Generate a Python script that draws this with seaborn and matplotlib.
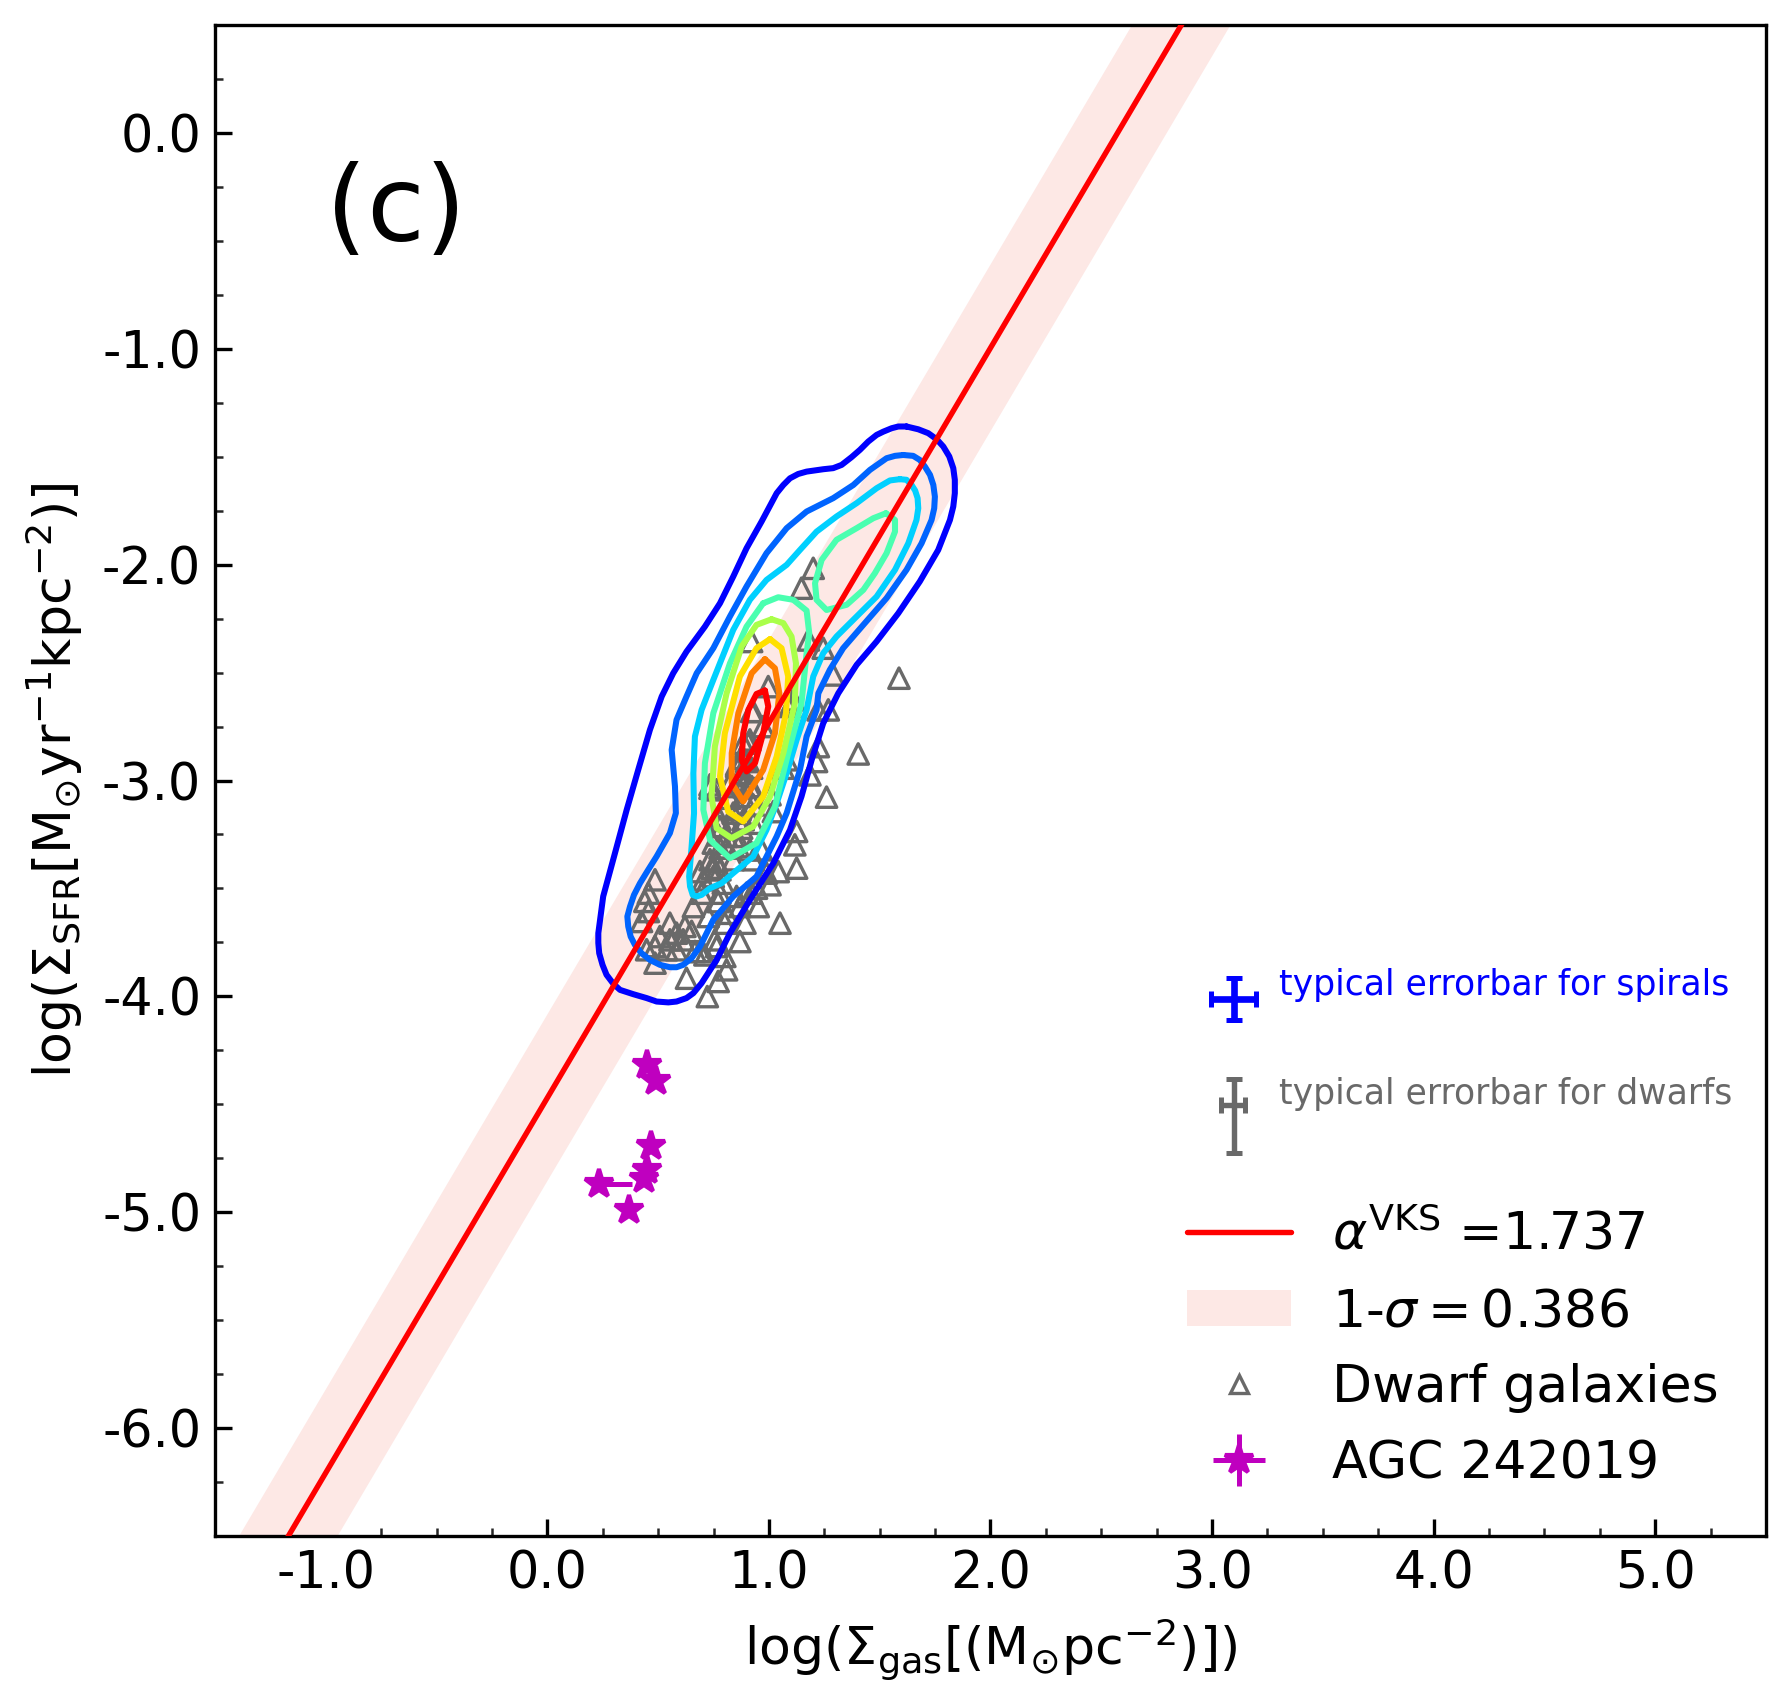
import matplotlib
matplotlib.use("Agg")
import matplotlib.pyplot as plt
from matplotlib.lines import Line2D
from matplotlib.patches import Patch
from matplotlib.ticker import MultipleLocator, FormatStrFormatter
import numpy as np
import seaborn as sns

slope = 1.737
intercept = -4.47
sigma = 0.386
line_x = [-2.0, 3.5]

contour_1 = [(1.621,-1.360),(1.674,-1.373),(1.719,-1.391),(1.757,-1.419),(1.787,-1.453),(1.814,-1.499),(1.832,-1.553),(1.839,-1.607),(1.839,-1.669),(1.832,-1.731),(1.817,-1.793),(1.764,-1.932),(1.681,-2.078),(1.584,-2.225),(1.486,-2.356),(1.396,-2.464),(1.313,-2.596),(1.245,-2.735),(1.193,-2.904),(1.147,-3.074),(1.095,-3.229),(1.020,-3.383),(0.914,-3.553),(0.824,-3.707),(0.764,-3.831),(0.696,-3.939),(0.659,-3.985),(0.628,-4.008),(0.583,-4.024),(0.546,-4.028),(0.493,-4.024),(0.448,-4.008),(0.388,-3.990),(0.328,-3.970),(0.298,-3.942),(0.267,-3.900),(0.249,-3.854),(0.234,-3.800),(0.230,-3.753),(0.230,-3.707),(0.252,-3.537),(0.305,-3.337),(0.358,-3.136),(0.410,-2.951),(0.463,-2.765),(0.516,-2.611),(0.568,-2.503),(0.628,-2.403),(0.711,-2.287),(0.779,-2.179),(0.839,-2.055),(0.899,-1.924),(0.967,-1.800),(1.035,-1.669),(1.065,-1.631),(1.095,-1.600),(1.132,-1.580),(1.170,-1.569),(1.245,-1.558),(1.290,-1.553),(1.328,-1.538),(1.373,-1.502),(1.411,-1.468),(1.448,-1.430),(1.486,-1.399),(1.516,-1.384),(1.554,-1.368),(1.584,-1.360)]
contour_2 = [(1.606,-1.492),(1.651,-1.496),(1.681,-1.515),(1.704,-1.546),(1.727,-1.584),(1.742,-1.631),(1.749,-1.685),(1.746,-1.739),(1.734,-1.793),(1.689,-1.901),(1.621,-2.024),(1.531,-2.155),(1.426,-2.279),(1.335,-2.387),(1.275,-2.487),(1.223,-2.596),(1.215,-2.673),(1.170,-2.796),(1.140,-2.951),(1.080,-3.151),(1.035,-3.259),(0.944,-3.445),(0.839,-3.537),(0.749,-3.645),(0.689,-3.769),(0.651,-3.823),(0.613,-3.854),(0.583,-3.865),(0.553,-3.865),(0.508,-3.854),(0.463,-3.831),(0.425,-3.800),(0.395,-3.761),(0.376,-3.723),(0.365,-3.676),(0.361,-3.630),(0.373,-3.584),(0.391,-3.530),(0.418,-3.476),(0.455,-3.414),(0.493,-3.352),(0.553,-3.244),(0.580,-3.151),(0.576,-3.028),(0.561,-2.858),(0.583,-2.719),(0.628,-2.611),(0.674,-2.503),(0.749,-2.387),(0.824,-2.240),(0.899,-2.101),(0.989,-1.947),(1.080,-1.831),(1.170,-1.754),(1.290,-1.692),(1.381,-1.631),(1.456,-1.561),(1.531,-1.507),(1.569,-1.496)]
contour_3 = [(1.591,-1.604),(1.621,-1.607),(1.644,-1.631),(1.660,-1.657),(1.671,-1.692),(1.674,-1.739),(1.666,-1.793),(1.629,-1.901),(1.569,-2.024),(1.486,-2.148),(1.396,-2.240),(1.305,-2.333),(1.245,-2.410),(1.200,-2.518),(1.170,-2.673),(1.125,-2.812),(1.080,-2.966),(1.035,-3.105),(0.989,-3.229),(0.929,-3.352),(0.839,-3.429),(0.786,-3.476),(0.734,-3.499),(0.696,-3.530),(0.674,-3.537),(0.656,-3.530),(0.644,-3.491),(0.640,-3.445),(0.651,-3.306),(0.662,-3.151),(0.659,-2.966),(0.666,-2.796),(0.696,-2.673),(0.749,-2.534),(0.839,-2.302),(0.914,-2.163),(0.989,-2.071),(1.080,-2.001),(1.140,-1.932),(1.215,-1.847),(1.305,-1.777),(1.396,-1.715),(1.486,-1.646),(1.546,-1.610)]
contour_4a = [(1.528,-1.762),(1.569,-1.793),(1.569,-1.847),(1.531,-1.947),(1.478,-2.040),(1.426,-2.117),(1.351,-2.186),(1.260,-2.210),(1.215,-2.163),(1.208,-2.086),(1.238,-1.978),(1.305,-1.885),(1.396,-1.831),(1.471,-1.785)]
contour_4b = [(0.974,-2.179),(1.042,-2.151),(1.110,-2.163),(1.170,-2.213),(1.182,-2.318),(1.170,-2.410),(1.147,-2.642),(1.087,-2.873),(1.027,-3.120),(0.944,-3.290),(0.824,-3.360),(0.734,-3.275),(0.704,-3.136),(0.711,-2.920),(0.749,-2.688),(0.824,-2.457),(0.899,-2.287)]
contour_5 = [(1.012,-2.253),(1.065,-2.271),(1.102,-2.333),(1.122,-2.457),(1.117,-2.642),(1.065,-2.873),(1.005,-3.074),(0.929,-3.213),(0.831,-3.267),(0.764,-3.221),(0.741,-3.074),(0.756,-2.842),(0.809,-2.596),(0.877,-2.379),(0.944,-2.279)]
contour_6 = [(1.005,-2.345),(1.057,-2.387),(1.087,-2.518),(1.077,-2.688),(1.035,-2.889),(0.974,-3.074),(0.884,-3.190),(0.816,-3.144),(0.779,-2.982),(0.801,-2.781),(0.869,-2.518),(0.944,-2.387)]
contour_7 = [(0.982,-2.438),(1.027,-2.480),(1.047,-2.596),(1.027,-2.781),(0.974,-2.951),(0.884,-3.097),(0.832,-3.012),(0.832,-2.873),(0.862,-2.688),(0.922,-2.503)]
contour_8 = [(0.982,-2.583),(0.997,-2.657),(0.974,-2.781),(0.937,-2.920),(0.899,-2.958),(0.877,-2.904),(0.884,-2.781),(0.907,-2.673),(0.944,-2.599)]
contours = [contour_1, contour_2, contour_3, contour_4a, contour_4b, contour_5, contour_6, contour_7, contour_8]
contour_colors = ["#0000ff", "#0064ff", "#00d0ff", "#4affb0", "#4affb0", "#aaff4a", "#ffe000", "#ff7f00", "#ff0000"]

dwarf_x = [1.200,1.147,0.922,1.178,1.245,1.290,1.587,0.997,1.268,1.223,1.215,1.185,1.403,1.260,1.125,1.117,1.125,1.050,1.042,1.005,0.952,0.892,0.869,0.801,0.756,0.809,0.771,0.628,0.722,0.801,
           0.486,0.456,0.440,0.425,0.448,0.486,0.553,0.508,0.538,0.583,0.651,0.613,0.666,0.711,0.726,0.659,0.771,0.696,0.689,0.741,0.749,0.794,0.869,0.922,0.989,0.944,
           0.771,0.749,0.809,0.862,0.914,0.824,0.877,0.794,0.734,0.764,0.869,0.929,1.020,0.884,0.922,0.854,0.899,0.914,0.922,1.065,1.080,1.110,1.080,0.974,0.884,1.005,0.824,0.779,0.884,0.764,0.839,0.929,0.967,
           1.222,1.095,0.929,0.907,0.884,0.854,0.734,0.914,0.779,
           0.553,0.621,0.689,0.764,0.809,0.854,0.899,0.704,0.779,0.734,0.779,0.809,0.854,0.779,0.884,0.929,0.839,0.884,0.922,0.854,0.824,0.456,0.486,0.583]
dwarf_y = [-2.017,-2.109,-2.356,-2.349,-2.387,-2.511,-2.526,-2.565,-2.673,-2.843,-2.912,-2.974,-2.877,-3.077,-3.236,-3.298,-3.406,-3.661,-3.422,-3.483,-3.584,-3.661,-3.746,-3.661,-3.738,-3.877,-3.931,-3.916,-4.001,-3.815,
           -3.460,-3.522,-3.560,-3.653,-3.784,-3.846,-3.661,-3.723,-3.784,-3.707,-3.699,-3.738,-3.792,-3.808,-3.630,-3.584,-3.561,-3.522,-3.422,-3.406,-3.445,-3.476,-3.584,-3.522,-3.429,-3.499,
           -3.252,-3.290,-3.313,-3.306,-3.321,-3.213,-3.221,-3.128,-3.020,-3.043,-3.136,-3.113,-3.144,-3.028,-3.028,-2.927,-2.912,-2.812,-2.680,-2.943,-2.904,-2.626,-2.642,-2.750,-2.827,-3.066,-3.082,-3.213,-3.074,-3.375,-3.367,-3.367,-3.321,
           -2.673,-2.657,-2.680,-2.827,-2.897,-2.935,-3.036,-3.028,-3.182,
           -3.738,-3.676,-3.792,-3.769,-3.615,-3.537,-3.522,-3.460,-3.522,-3.367,-3.414,-3.259,-3.259,-3.313,-3.182,-3.198,-3.151,-2.966,-2.943,-3.028,-3.012,-3.607,-3.769,-3.784]

agc_x = [0.448,0.490,0.470,0.451,0.436,0.234,0.370]
agc_y = [-4.317,-4.394,-4.692,-4.803,-4.845,-4.868,-4.989]
agc_xerr_hi = [0.0,0.0,0.0,0.0,0.0,0.15,0.0]

# x, y, x error low/high, y error low/high
spiral_err = (3.10, -4.011, 0.103, 0.098, 0.10, 0.095)
dwarf_err = (3.10, -4.503, 0.06, 0.05, 0.222, 0.122)

xticks = [-1, 0, 1, 2, 3, 4, 5]
yticks = [0, -1, -2, -3, -4, -5, -6]

sns.set_style("ticks")
plt.rcParams["font.family"] = ["DejaVu Sans"]

fig = plt.figure(figsize=(1790/300, 1704/300), dpi=300)
ax = fig.add_axes([215/1790, 1-1536/1704, (1766-215)/1790, (1536-25)/1704])

band_color = "#fde8e5"
lx = np.array(line_x)
ly = slope*lx + intercept
ax.fill_between(lx, ly-sigma, ly+sigma, color=band_color, lw=0, zorder=1)

sns.scatterplot(x=dwarf_x, y=dwarf_y, marker="^", s=24, facecolor="none", edgecolor="dimgray",
                linewidth=0.8, ax=ax, zorder=2, legend=False)

for pts, col in zip(contours, contour_colors):
    closed = pts + pts[:1]
    xs = [p[0] for p in closed]
    ys = [p[1] for p in closed]
    sns.lineplot(x=xs, y=ys, sort=False, estimator=None, color=col, lw=1.45, ax=ax, zorder=3,
                 legend=False, solid_joinstyle="round")

sns.lineplot(x=lx, y=ly, color="red", lw=1.3, ax=ax, zorder=4, legend=False)

agc = ax.errorbar(agc_x, agc_y, xerr=[[0]*len(agc_x), agc_xerr_hi], yerr=[[0]*len(agc_x)]*2, fmt="*",
                  color="m", ms=7, lw=1.2, zorder=5, label="AGC 242019")

for (ex, ey, xl, xh, yl, yh), col, w in zip([spiral_err, dwarf_err], ["blue", "dimgray"], [1.6, 1.3]):
    ax.errorbar([ex], [ey], xerr=[[xl], [xh]], yerr=[[yl], [yh]], color=col,
                lw=w, capsize=2, capthick=1.2, zorder=5)
ax.text(3.304, -3.996, "typical errorbar for spirals", color="blue", fontsize=8.3)
ax.text(3.304, -4.50, "typical errorbar for dwarfs", color="dimgray", fontsize=8.3)
ax.text(-1.0, -0.5, "(c)", fontsize=25.3, color="black")

ax.set_xlim(-1.5, 5.5)
ax.set_ylim(-6.5, 0.5)
ax.set_xticks(xticks)
ax.set_yticks(yticks)
ax.xaxis.set_major_formatter(FormatStrFormatter("%.1f"))
ax.yaxis.set_major_formatter(FormatStrFormatter("%.1f"))
ax.xaxis.set_minor_locator(MultipleLocator(0.25))
ax.yaxis.set_minor_locator(MultipleLocator(0.25))
ax.tick_params(which="major", direction="in", length=4, width=0.8, labelsize=12.2, color="black", labelcolor="black", pad=3.3)
ax.tick_params(which="minor", direction="in", length=2, width=0.6)
for s in ax.spines.values():
    s.set_linewidth(0.8)
    s.set_color("black")
ax.set_xlabel(r"log($\Sigma_{\rm gas}$[(M$_{\odot}$pc$^{-2}$)])", fontsize=12.5, color="black", labelpad=4)
ax.set_ylabel(r"log($\Sigma_{\rm SFR}$[M$_{\odot}$yr$^{-1}$kpc$^{-2}$)]", fontsize=12.5, color="black", labelpad=4)

handles = [Line2D([], [], color="red", lw=1.3),
           Patch(color=band_color, lw=0),
           Line2D([], [], ls="none", marker="^", mfc="none", mec="dimgray", mew=0.8, ms=4.5),
           agc]
labels = [r"$\alpha^{\rm VKS}$ =1.737", r"1-$\sigma=0.386$", "Dwarf galaxies", "AGC 242019"]
ax.legend(handles, labels, loc="lower right", frameon=False, fontsize=12.5, labelcolor="black")

fig.savefig("out.png", dpi=300)
